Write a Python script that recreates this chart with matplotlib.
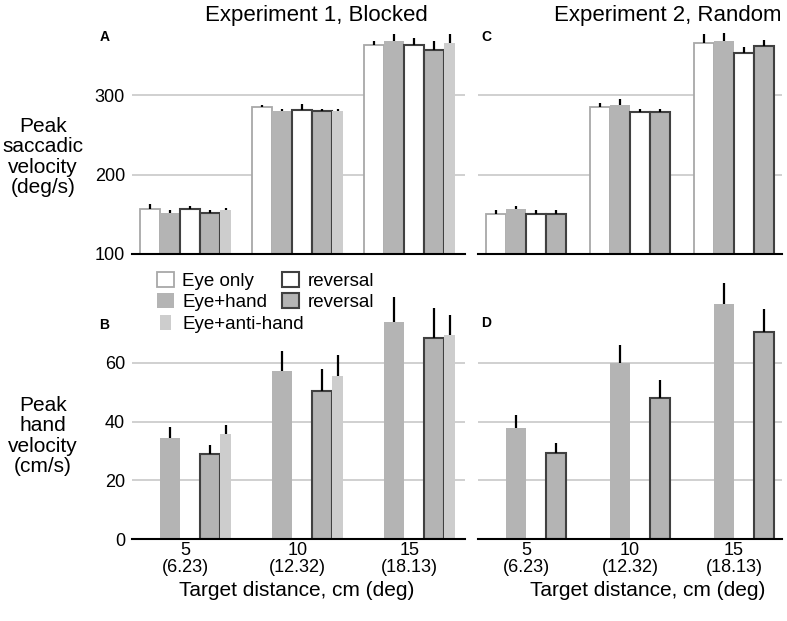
import numpy as np
import matplotlib.pyplot as plt
from matplotlib.patches import Rectangle
from matplotlib.legend_handler import HandlerPatch

plt.rcParams['font.family'] = ['Liberation Sans', 'DejaVu Sans']

# Daten
dist_labels = ['5\n(6.23)', '10\n(12.32)', '15\n(18.13)']

# Experiment 1 - sakkadische Spitzengeschwindigkeit (deg/s)
e1_eye = [157, 285, 363]
e1_eye_err = [6.5, 3.5, 6]
e1_hand = [152, 280, 369]
e1_hand_err = [4, 3, 9]
e1_eye_rev = [157, 282, 363]
e1_eye_rev_err = [4, 7, 9]
e1_hand_rev = [152, 280, 357]
e1_hand_rev_err = [3, 3, 12]
e1_anti = [155, 280, 366.5]
e1_anti_err = [3, 3, 11.5]

# Experiment 2 - sakkadische Spitzengeschwindigkeit (deg/s)
e2_eye = [151, 285, 366]
e2_eye_err = [4, 5.5, 11]
e2_hand = [157, 288.5, 369]
e2_hand_err = [4, 6.5, 10]
e2_eye_rev = [151, 279.5, 353]
e2_eye_rev_err = [4, 3.5, 8.5]
e2_hand_rev = [151, 279.5, 362.5]
e2_hand_rev_err = [4, 3.5, 7.5]

# Handgeschwindigkeit (cm/s)
h1_hand = [34.3, 57.1, 74.1]
h1_hand_err = [3.8, 6.9, 8.4]
h1_hand_rev = [28.9, 50.5, 68.6]
h1_hand_rev_err = [3.2, 7.4, 10.2]
h1_anti = [35.7, 55.4, 69.4]
h1_anti_err = [3.0, 7.3, 7.1]
h2_hand = [38.0, 59.9, 80.2]
h2_hand_err = [4.3, 6.4, 7.2]
h2_hand_rev = [29.4, 48.1, 70.5]
h2_hand_rev_err = [3.3, 6.2, 7.9]

# Stile
GRAY = '#b4b4b4'
DARK = '#404040'
sty_eye = dict(facecolor='white', edgecolor='#a8a8a8', linewidth=1.3)
sty_hand = dict(facecolor=GRAY, edgecolor='none', linewidth=0)
sty_eye_rev = dict(facecolor='white', edgecolor=DARK, linewidth=1.5)
sty_hand_rev = dict(facecolor=GRAY, edgecolor=DARK, linewidth=1.5)
sty_anti = dict(facecolor='#cdcdcd', edgecolor='none', linewidth=0)


def offsets(widths):
    widths = np.array(widths)
    edges = np.concatenate([[0], np.cumsum(widths)[:-1]])
    return edges + widths / 2 - widths.sum() / 2


def bars(ax, off, width, vals, errs, style):
    x = np.arange(len(vals)) + off
    c = ax.bar(x, vals, width, zorder=2, **style)
    ax.errorbar(x, vals, yerr=[np.zeros(len(errs)), errs], fmt='none',
                ecolor='black', elinewidth=1.6, capsize=0, zorder=3)
    return c


def style_axes(ax, xlim, ylim, yticks, ylabels, xlabels):
    ax.set_xlim(xlim)
    ax.set_ylim(ylim)
    for s in ['top', 'right', 'left']:
        ax.spines[s].set_visible(False)
    ax.spines['bottom'].set_linewidth(1.5)
    ax.set_yticks(yticks)
    if not ylabels:
        ax.set_yticklabels([])
    ax.yaxis.grid(True, color='#c8c8c8', linewidth=1.2)
    ax.set_axisbelow(True)
    ax.set_xticks([0, 1, 2])
    ax.set_xticklabels(dist_labels if xlabels else [], linespacing=1.0)
    ax.tick_params(axis='y', length=0, labelsize=13, pad=5)
    ax.tick_params(axis='x', length=0, labelsize=13, pad=2)


fig = plt.figure(figsize=(7.87, 6.21), dpi=100)
W, H = 787, 621


def px_axes(x0, y0, x1, y1):
    return fig.add_axes([x0 / W, 1 - y1 / H, (x1 - x0) / W, (y1 - y0) / H])


axA = px_axes(132, 30, 465, 254)
axB = px_axes(132, 270, 465, 539)
axC = px_axes(478, 30, 782, 254)
axD = px_axes(478, 270, 782, 539)

# Experiment 1: 5 Balken, Anti-Hand schmaler
w1, wa = 20 / 112, 11 / 112
o1 = offsets([w1, w1, w1, w1, wa])
bars(axA, o1[0], w1, e1_eye, e1_eye_err, sty_eye)
bars(axA, o1[1], w1, e1_hand, e1_hand_err, sty_hand)
bars(axA, o1[2], w1, e1_eye_rev, e1_eye_rev_err, sty_eye_rev)
bars(axA, o1[3], w1, e1_hand_rev, e1_hand_rev_err, sty_hand_rev)
bars(axA, o1[4], wa, e1_anti, e1_anti_err, sty_anti)

bB1 = bars(axB, o1[1], w1, h1_hand, h1_hand_err, sty_hand)
bB2 = bars(axB, o1[3], w1, h1_hand_rev, h1_hand_rev_err, sty_hand_rev)
bB3 = bars(axB, o1[4], wa, h1_anti, h1_anti_err, sty_anti)

# Experiment 2: 4 Balken
w2 = 20 / 104
o2 = offsets([w2] * 4)
bars(axC, o2[0], w2, e2_eye, e2_eye_err, sty_eye)
bars(axC, o2[1], w2, e2_hand, e2_hand_err, sty_hand)
bars(axC, o2[2], w2, e2_eye_rev, e2_eye_rev_err, sty_eye_rev)
bars(axC, o2[3], w2, e2_hand_rev, e2_hand_rev_err, sty_hand_rev)

bars(axD, o2[1], w2, h2_hand, h2_hand_err, sty_hand)
bars(axD, o2[3], w2, h2_hand_rev, h2_hand_rev_err, sty_hand_rev)

xl1 = (-53.5 / 112, 279.5 / 112)
xl2 = (-48 / 104, 256 / 104)
style_axes(axA, xl1, (100, 382.5), [100, 200, 300], True, False)
style_axes(axB, xl1, (0, 91.7), [0, 20, 40, 60], True, True)
style_axes(axC, xl2, (100, 382.5), [100, 200, 300], False, False)
style_axes(axD, xl2, (0, 91.7), [0, 20, 40, 60], False, True)

# Legende
eye_proxy = Rectangle((0, 0), 1, 1, **sty_eye)
eye_rev_proxy = Rectangle((0, 0), 1, 1, **sty_eye_rev)
leg1 = axB.legend([eye_proxy, bB1, eye_rev_proxy, bB2],
                  ['Eye only', 'Eye+hand', 'reversal', 'reversal'],
                  ncol=2, frameon=False, fontsize=13.5, loc='upper left',
                  bbox_to_anchor=(157 / W, 1 - 272 / H), bbox_transform=fig.transFigure,
                  borderpad=0, borderaxespad=0, handlelength=0.9, handleheight=0.85,
                  handletextpad=0.45, labelspacing=0.15, columnspacing=0.8)
axB.add_artist(leg1)


def narrow(legend, orig_handle, xdescent, ydescent, width, height, fontsize):
    return Rectangle((width * 0.2 - xdescent, -ydescent), width * 0.6, height)


anti_patch = bB3.patches[0]
axB.legend([anti_patch], ['Eye+anti-hand'], frameon=False, fontsize=13.5,
           loc='upper left', bbox_to_anchor=(157 / W, 1 - 315 / H),
           bbox_transform=fig.transFigure, borderpad=0, borderaxespad=0,
           handlelength=0.9, handleheight=0.85, handletextpad=0.45,
           handler_map={anti_patch: HandlerPatch(patch_func=narrow)})

# Panelbuchstaben
for t, x, y in [('A', 105, 37), ('B', 104, 325), ('C', 486, 37), ('D', 486, 323)]:
    fig.text(x / W, 1 - y / H, t, fontsize=10, fontweight='bold', ha='center', va='center')

# Titel und Achsenbeschriftungen
fig.text(316 / W, 1 - 15 / H, 'Experiment 1, Blocked', fontsize=16, ha='center', va='center')
fig.text(668 / W, 1 - 15 / H, 'Experiment 2, Random', fontsize=16, ha='center', va='center')
fig.text(43 / W, 1 - 157 / H, 'Peak\nsaccadic\nvelocity\n(deg/s)', fontsize=15,
         ha='center', va='center', multialignment='center', linespacing=1.1)
fig.text(43 / W, 1 - 436 / H, 'Peak\nhand\nvelocity\n(cm/s)', fontsize=15,
         ha='center', va='center', multialignment='center', linespacing=1.1)
fig.text(297 / W, 1 - 590 / H, 'Target distance, cm (deg)', fontsize=15, ha='center', va='center')
fig.text(648 / W, 1 - 590 / H, 'Target distance, cm (deg)', fontsize=15, ha='center', va='center')

fig.savefig('out.png', dpi=100)
